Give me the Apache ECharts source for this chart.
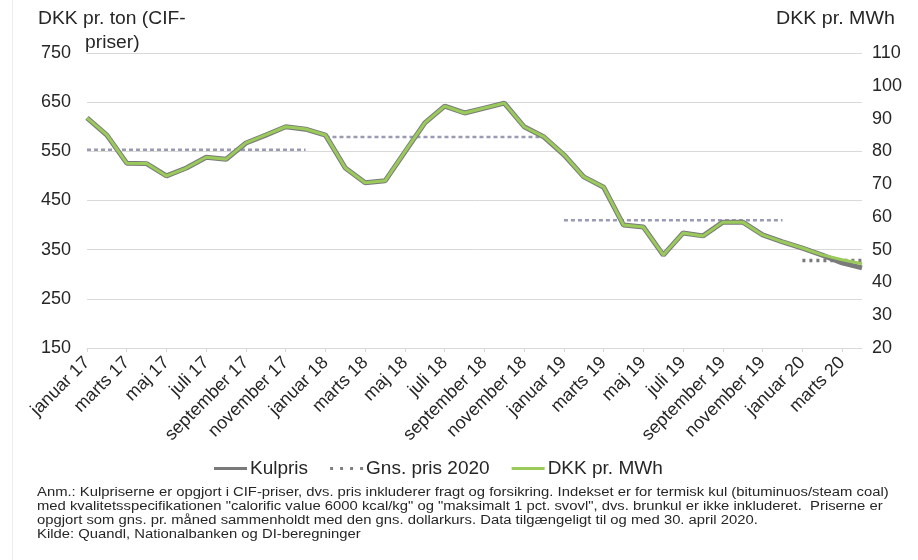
<!DOCTYPE html>
<html>
<head>
<meta charset="utf-8">
<script src="https://cdn.jsdelivr.net/npm/echarts@6/dist/echarts.min.js"></script>
<style>
html,body{margin:0;padding:0;background:#fff;}
#c{width:918px;height:560px;}
</style>
</head>
<body>
<div id="c"></div>
<script>
// ---- data ----
const months = ["januar","februar","marts","april","maj","juni","juli","august","september","oktober","november","december"];
const years = ["17","18","19","20"];
const categories = [];
for (const y of years) for (const m of months) { if (categories.length < 40) categories.push(m + " " + y); }

const kulpris = [618,583,526,525,500,516,538,534,567,583,600,595,
                 583,516,486,490,549,608,642,628,638,648,600,579,
                 543,498,477,400,396,339,384,378,406,406,380,366,
                 353,339,323,313];
const dkkMWh = [90.2,85.0,76.4,76.3,72.5,74.9,78.2,77.6,82.6,85.0,87.5,86.8,
                85.0,74.9,70.4,71.0,79.9,88.7,93.8,91.7,93.2,94.7,87.5,84.4,
                79.0,72.2,69.1,57.5,56.9,48.4,55.1,54.2,58.4,58.4,54.5,52.4,
                50.5,48.4,46.9,45.7];
const gns2017 = 553, gns2018 = 579, gns2019 = 410, gns2020 = 328;
const leftTicks = {min:150, max:750, step:100};
const rightTicks = {min:20, max:110, step:10};

function span(val, from, to) {
  return categories.map((c, i) => (i >= from && i <= to) ? val : null);
}

const chart = echarts.init(document.getElementById('c'), null, {renderer:'canvas'});
const font = 'Liberation Sans, Arial, sans-serif';
const txt = '#262626';
const lineIcon = 'path://M0,0H33V3H0Z';
const dotIcon = 'path://M0,0h3v3h-3z M10,0h3v3h-3z M20,0h3v3h-3z M30,0h3v3h-3z';

chart.setOption({
  backgroundColor: '#ffffff',
  animation: false,
  textStyle: {fontFamily: font},
  grid: {left: 87, right: 56, top: 53, bottom: 212, containLabel: false},
  legend: {
    left: 209, top: 454,
    itemGap: 22, itemWidth: 33, itemHeight: 3,
    textStyle: {fontSize: 19, color: txt, fontFamily: font, padding:[0,0,0,-2]},
    data: [
      {name: 'Kulpris', icon: lineIcon, itemStyle: {color: '#7a7a7a'}},
      {name: 'Gns. pris 2020', icon: dotIcon, itemStyle: {color: '#808080'}},
      {name: 'DKK pr. MWh', icon: lineIcon, itemStyle: {color: '#9acb5a'}}
    ]
  },
  xAxis: {
    type: 'category',
    data: categories,
    boundaryGap: false,
    axisLine: {lineStyle: {color: '#d9d9d9', width: 1}},
    axisTick: {show: true, interval: 1, length: 4, lineStyle: {color: '#d9d9d9'}},
    axisLabel: {interval: 1, rotate: 45, fontSize: 18, color: txt, margin: 12, fontFamily: font}
  },
  yAxis: [
    {
      type: 'value', min: leftTicks.min, max: leftTicks.max, interval: leftTicks.step,
      axisLine: {show: false}, axisTick: {show: false},
      splitLine: {lineStyle: {color: '#d9d9d9', width: 1}},
      axisLabel: {fontSize: 18, color: txt, margin: 16, fontFamily: font}
    },
    {
      type: 'value', min: rightTicks.min, max: rightTicks.max, interval: rightTicks.step,
      position: 'right',
      axisLine: {show: false}, axisTick: {show: false},
      splitLine: {show: false},
      axisLabel: {fontSize: 18, color: txt, margin: 10, fontFamily: font}
    }
  ],
  series: [
    {
      name: 'Gns. 2017', type: 'line', data: span(gns2017, 0, 11), symbol: 'none', silent: true,
      lineStyle: {color: '#9a9ab4', width: 2.5, type: [4, 3]}, z: 1
    },
    {
      name: 'Gns. 2018', type: 'line', data: span(gns2018, 12, 23), symbol: 'none', silent: true,
      lineStyle: {color: '#9a9ab4', width: 2.5, type: [4, 3]}, z: 1
    },
    {
      name: 'Gns. 2019', type: 'line', data: span(gns2019, 24, 35), symbol: 'none', silent: true,
      lineStyle: {color: '#9a9ab4', width: 2.5, type: [4, 3]}, z: 1
    },
    {
      name: 'Gns. pris 2020', type: 'line', data: span(gns2020, 36, 39), symbol: 'none',
      itemStyle: {color: '#7a7a7a'},
      lineStyle: {color: '#7a7a7a', width: 3.5, type: [3, 4]}, z: 1
    },
    {
      name: 'Kulpris', type: 'line', data: kulpris, symbol: 'none',
      itemStyle: {color: '#7a7a7a'},
      lineStyle: {color: '#7a7a7a', width: 5}, z: 2
    },
    {
      name: 'DKK pr. MWh', type: 'line', yAxisIndex: 1, data: dkkMWh, symbol: 'none',
      itemStyle: {color: '#9acb5a'},
      lineStyle: {color: '#9acb5a', width: 3}, z: 3
    }
  ],
  graphic: [
    {type: 'line', shape: {x1: 12.5, y1: 0, x2: 12.5, y2: 560}, style: {stroke: '#ececec', lineWidth: 1}, silent: true},
    {type: 'text', x: 38, y: 10, scaleX: 1.07, style: {text: 'DKK pr. ton (CIF-', fontSize: 18, fill: txt, fontFamily: font}},
    {type: 'text', x: 85, y: 34, scaleX: 1.07, style: {text: 'priser)', fontSize: 18, fill: txt, fontFamily: font}},
    {type: 'text', x: 776, y: 10, scaleX: 1.09, style: {text: 'DKK pr. MWh', fontSize: 18, fill: txt, fontFamily: font}},
    {type: 'text', x: 37, y: 486, scaleX: 1.235, style: {
      text: 'Anm.: Kulpriserne er opgjort i CIF-priser, dvs. pris inkluderer fragt og forsikring. Indekset er for termisk kul (bituminuos/steam coal)\n' +
            'med kvalitetsspecifikationen "calorific value 6000 kcal/kg" og "maksimalt 1 pct. svovl", dvs. brunkul er ikke inkluderet.  Priserne er\n' +
            'opgjort som gns. pr. måned sammenholdt med den gns. dollarkurs. Data tilgængeligt til og med 30. april 2020.\n' +
            'Kilde: Quandl, Nationalbanken og DI-beregninger',
      fontSize: 12, lineHeight: 14, fill: '#262626', fontFamily: font}}
  ]
});
</script>
</body>
</html>
